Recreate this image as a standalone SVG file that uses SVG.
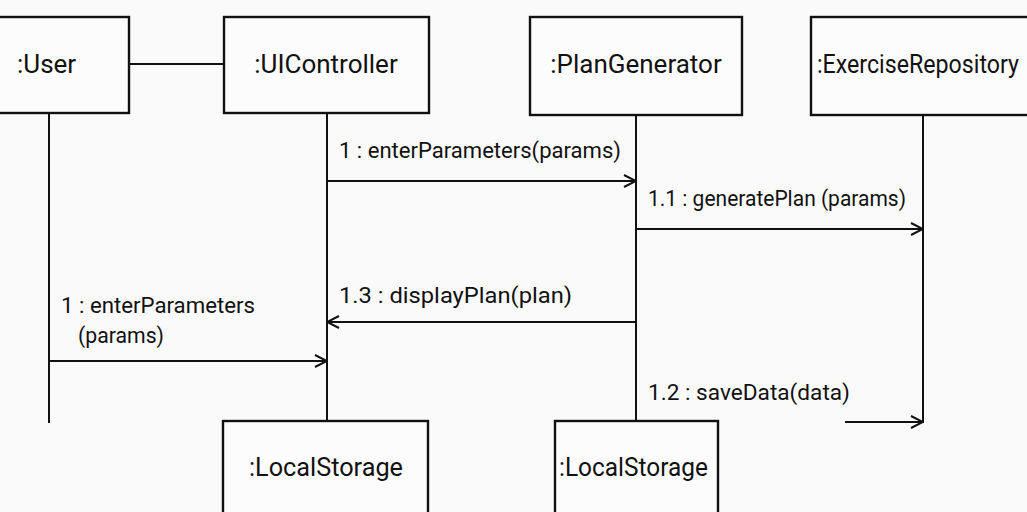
<svg xmlns="http://www.w3.org/2000/svg" width="1027" height="512" viewBox="0 0 1027 512">
  <defs>
    <marker id="open" viewBox="0 0 14 14" refX="13" refY="7" markerWidth="14" markerHeight="14" markerUnits="userSpaceOnUse" orient="auto">
      <path d="M1,1 L13,7 L1,13" fill="none" stroke="#111" stroke-width="2"/>
    </marker>
  </defs>
  <style>
    .box { fill: #fcfcfc; stroke: #111; stroke-width: 2.4; }
    .line { stroke: #111; stroke-width: 2; fill: none; }
    .name { font-family: Roboto, "Liberation Sans", sans-serif; font-size: 26px; fill: #111; }
    .lbl { font-family: Roboto, "Liberation Sans", sans-serif; font-size: 22px; fill: #111; }
  </style>
  <rect width="1027" height="512" fill="#fafafa"/>

  <!-- lifelines and links -->
  <g id="connectors">
    <line class="line" x1="129" y1="64" x2="224" y2="64"/>
    <line class="line" x1="49" y1="113" x2="49" y2="423"/>
    <line class="line" x1="327" y1="113" x2="327" y2="421"/>
    <line class="line" x1="636" y1="115" x2="636" y2="421"/>
    <line class="line" x1="923" y1="115" x2="923" y2="423"/>

    <line class="line" x1="327" y1="181" x2="636" y2="181" marker-end="url(#open)"/>
    <text class="lbl" x="339" y="158" textLength="282" lengthAdjust="spacingAndGlyphs">1 : enterParameters(params)</text>

    <line class="line" x1="636" y1="229" x2="923" y2="229" marker-end="url(#open)"/>
    <text class="lbl" x="648" y="206" textLength="258" lengthAdjust="spacingAndGlyphs">1.1 : generatePlan (params)</text>

    <line class="line" x1="636" y1="322" x2="327" y2="322" marker-end="url(#open)"/>
    <text class="lbl" x="339" y="303" textLength="233" lengthAdjust="spacingAndGlyphs">1.3 : displayPlan(plan)</text>

    <line class="line" x1="49" y1="361" x2="327" y2="361" marker-end="url(#open)"/>
    <text class="lbl" x="61" y="313" textLength="194" lengthAdjust="spacingAndGlyphs">1 : enterParameters</text>
    <text class="lbl" x="78" y="343" textLength="86" lengthAdjust="spacingAndGlyphs">(params)</text>

    <line class="line" x1="845" y1="422" x2="923" y2="422" marker-end="url(#open)"/>
    <text class="lbl" x="648" y="400" textLength="202" lengthAdjust="spacingAndGlyphs">1.2 : saveData(data)</text>
  </g>

  <g id="user">
    <rect class="box" x="-10" y="17" width="139" height="96"/>
    <text class="name" x="17" y="73">:User</text>
  </g>
  <g id="uicontroller">
    <rect class="box" x="224" y="17" width="205" height="96"/>
    <text class="name" x="326" y="73" text-anchor="middle">:UIController</text>
  </g>
  <g id="plangenerator">
    <rect class="box" x="530" y="17" width="212" height="98"/>
    <text class="name" x="636" y="73" text-anchor="middle">:PlanGenerator</text>
  </g>
  <g id="exerciserepository">
    <rect class="box" x="811" y="17" width="230" height="98"/>
    <text class="name" x="817" y="73" textLength="202" lengthAdjust="spacingAndGlyphs">:ExerciseRepository</text>
  </g>
  <g id="localstorage-1">
    <rect class="box" x="223" y="421" width="205" height="110"/>
    <text class="name" x="249" y="476" textLength="154" lengthAdjust="spacingAndGlyphs">:LocalStorage</text>
  </g>
  <g id="localstorage-2">
    <rect class="box" x="555" y="421" width="163" height="110"/>
    <text class="name" x="559" y="476" textLength="149" lengthAdjust="spacingAndGlyphs">:LocalStorage</text>
  </g>
</svg>
